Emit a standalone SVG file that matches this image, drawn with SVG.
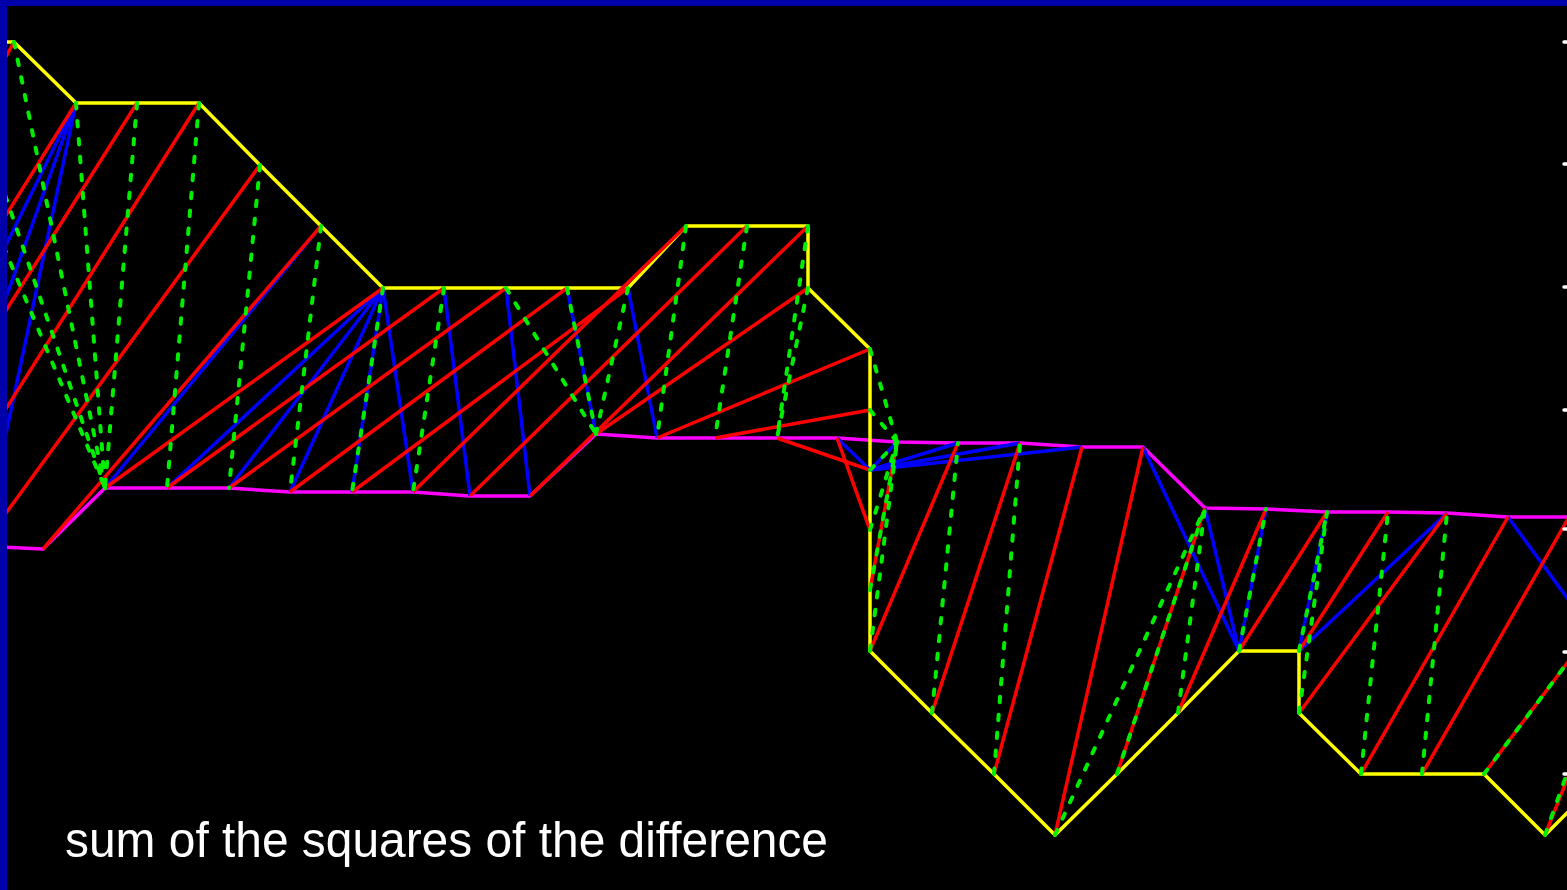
<svg xmlns="http://www.w3.org/2000/svg" width="1567" height="890" viewBox="0 0 1567 890">
<style>
.y{fill:none;stroke:#FFFF00;stroke-width:3.5;stroke-linejoin:round}
.m{fill:none;stroke:#FF00FF;stroke-width:3.5;stroke-linejoin:round}
.b line{stroke:#0000FF;stroke-width:3.5}
.r line{stroke:#FF0000;stroke-width:3.5}
.g line{stroke:#00EE00;stroke-width:4;stroke-dasharray:5.5 12.5;stroke-linecap:round}
.tick{stroke:#FFFFFF;stroke-width:3.5;stroke-linecap:round}
.label{font-family:"Liberation Sans",Arial,sans-serif;font-size:50px;fill:#FFFFFF}
</style>
<rect x="0" y="0" width="1567" height="890" fill="#000000"/>
<g id="series-b">
<polyline class="m" points="-264,545 -200,545 -142,545 -80,545 -18,546 43,549 105,488 167,488 229,488 290,492 352,492 413,492 470,496 530,496 596,434 657,438 715,438 777,438 837,438 897,442 958,443 1020,443 1082,447 1143,447 1205,508 1266,509 1327,512 1388,512 1447,513 1508,517 1600,517"/>
</g>
<g id="series-a">
<polyline class="y" points="-108,-19 -47,42 14,42 76,103 137,103 199,103 260,165 321,226 383,288 444,288 506,288 567,288 628,288 686,226 747,226 808,226 808,288 870,349 870,651 932,713 994,774 1055,835 1117,774 1178,713 1239,651 1299,651 1299,713 1361,774 1422,774 1484,774 1545,835 1606,774"/>
</g>
<g id="connectors">
<g id="blue-links" class="b">
<line x1="76" y1="103" x2="-142" y2="545"/>
<line x1="76" y1="103" x2="-83" y2="545"/>
<line x1="76" y1="103" x2="-18" y2="547"/>
<line x1="105" y1="488" x2="321" y2="226"/>
<line x1="383" y1="288" x2="167" y2="488"/>
<line x1="383" y1="288" x2="229" y2="488"/>
<line x1="383" y1="288" x2="290" y2="492"/>
<line x1="383" y1="288" x2="352" y2="492"/>
<line x1="383" y1="288" x2="413" y2="492"/>
<line x1="444" y1="288" x2="470" y2="496"/>
<line x1="506" y1="288" x2="530" y2="496"/>
<line x1="567" y1="288" x2="596" y2="434"/>
<line x1="628" y1="288" x2="657" y2="438"/>
<line x1="837" y1="438" x2="870" y2="470"/>
<line x1="870" y1="470" x2="897" y2="442"/>
<line x1="870" y1="470" x2="958" y2="443"/>
<line x1="870" y1="470" x2="1020" y2="443"/>
<line x1="870" y1="470" x2="1082" y2="447"/>
<line x1="1143" y1="447" x2="1239" y2="651"/>
<line x1="1205" y1="508" x2="1239" y2="651"/>
<line x1="1239" y1="651" x2="1266" y2="509"/>
<line x1="1299" y1="651" x2="1327" y2="512"/>
<line x1="1299" y1="651" x2="1447" y2="513"/>
<line x1="1508" y1="517" x2="1600" y2="643"/>
</g>
<g id="red-links" class="r">
<line x1="14" y1="42" x2="-264" y2="545"/>
<line x1="76" y1="103" x2="-200" y2="545"/>
<line x1="137" y1="103" x2="-142" y2="545"/>
<line x1="199" y1="103" x2="-80" y2="545"/>
<line x1="260" y1="165" x2="-18" y2="546"/>
<line x1="321" y1="226" x2="43" y2="549"/>
<line x1="383" y1="288" x2="105" y2="488"/>
<line x1="444" y1="288" x2="167" y2="488"/>
<line x1="506" y1="288" x2="229" y2="488"/>
<line x1="567" y1="288" x2="290" y2="492"/>
<line x1="628" y1="288" x2="352" y2="492"/>
<line x1="686" y1="226" x2="413" y2="492"/>
<line x1="747" y1="226" x2="470" y2="496"/>
<line x1="808" y1="226" x2="530" y2="496"/>
<line x1="808" y1="288" x2="596" y2="434"/>
<line x1="870" y1="349" x2="657" y2="438"/>
<line x1="870" y1="410" x2="715" y2="438"/>
<line x1="870" y1="470" x2="777" y2="438"/>
<line x1="870" y1="530" x2="837" y2="438"/>
<line x1="870" y1="590" x2="897" y2="442"/>
<line x1="870" y1="651" x2="958" y2="443"/>
<line x1="932" y1="713" x2="1020" y2="443"/>
<line x1="994" y1="774" x2="1082" y2="447"/>
<line x1="1055" y1="835" x2="1143" y2="447"/>
<line x1="1117" y1="774" x2="1205" y2="508"/>
<line x1="1178" y1="713" x2="1266" y2="509"/>
<line x1="1239" y1="651" x2="1327" y2="512"/>
<line x1="1299" y1="651" x2="1388" y2="512"/>
<line x1="1299" y1="713" x2="1447" y2="513"/>
<line x1="1361" y1="774" x2="1508" y2="517"/>
<line x1="1422" y1="774" x2="1569" y2="517"/>
<line x1="1484" y1="774" x2="1600" y2="619"/>
<line x1="1545" y1="835" x2="1600" y2="697"/>
</g>
<g id="green-links" class="g">
<line x1="-47" y1="42" x2="105" y2="488"/>
<line x1="-108" y1="-19" x2="105" y2="488"/>
<line x1="14" y1="42" x2="105" y2="488"/>
<line x1="76" y1="103" x2="105" y2="488"/>
<line x1="137" y1="103" x2="105" y2="488"/>
<line x1="199" y1="103" x2="167" y2="488"/>
<line x1="260" y1="165" x2="229" y2="488"/>
<line x1="321" y1="226" x2="290" y2="492"/>
<line x1="383" y1="288" x2="352" y2="492"/>
<line x1="444" y1="288" x2="413" y2="492"/>
<line x1="506" y1="288" x2="596" y2="434"/>
<line x1="567" y1="288" x2="596" y2="434"/>
<line x1="628" y1="288" x2="596" y2="434"/>
<line x1="686" y1="226" x2="657" y2="438"/>
<line x1="747" y1="226" x2="715" y2="438"/>
<line x1="808" y1="226" x2="777" y2="438"/>
<line x1="808" y1="288" x2="777" y2="438"/>
<line x1="870" y1="349" x2="897" y2="442"/>
<line x1="870" y1="410" x2="897" y2="442"/>
<line x1="870" y1="470" x2="897" y2="442"/>
<line x1="870" y1="530" x2="897" y2="442"/>
<line x1="870" y1="590" x2="897" y2="442"/>
<line x1="870" y1="651" x2="897" y2="442"/>
<line x1="932" y1="713" x2="958" y2="443"/>
<line x1="994" y1="774" x2="1020" y2="443"/>
<line x1="1055" y1="835" x2="1205" y2="508"/>
<line x1="1117" y1="774" x2="1205" y2="508"/>
<line x1="1178" y1="713" x2="1205" y2="508"/>
<line x1="1239" y1="651" x2="1266" y2="509"/>
<line x1="1299" y1="651" x2="1327" y2="512"/>
<line x1="1299" y1="713" x2="1327" y2="512"/>
<line x1="1361" y1="774" x2="1388" y2="512"/>
<line x1="1422" y1="774" x2="1447" y2="513"/>
<line x1="1484" y1="774" x2="1600" y2="619"/>
<line x1="1545" y1="835" x2="1600" y2="681"/>
</g>
</g>
<g id="frame">
<rect x="0" y="0" width="1567" height="6" fill="#0000AA"/>
<rect x="0" y="0" width="7" height="890" fill="#0000AA"/>
<line class="tick" x1="1564" y1="42" x2="1570" y2="42"/>
<line class="tick" x1="1564" y1="164" x2="1570" y2="164"/>
<line class="tick" x1="1564" y1="287" x2="1570" y2="287"/>
<line class="tick" x1="1564" y1="410" x2="1570" y2="410"/>
<line class="tick" x1="1564" y1="529" x2="1570" y2="529"/>
<line class="tick" x1="1564" y1="652" x2="1570" y2="652"/>
<line class="tick" x1="1564" y1="774" x2="1570" y2="774"/>
</g>
<text id="caption" class="label" x="65" y="857" textLength="763" lengthAdjust="spacingAndGlyphs">sum of the squares of the difference</text>
</svg>
